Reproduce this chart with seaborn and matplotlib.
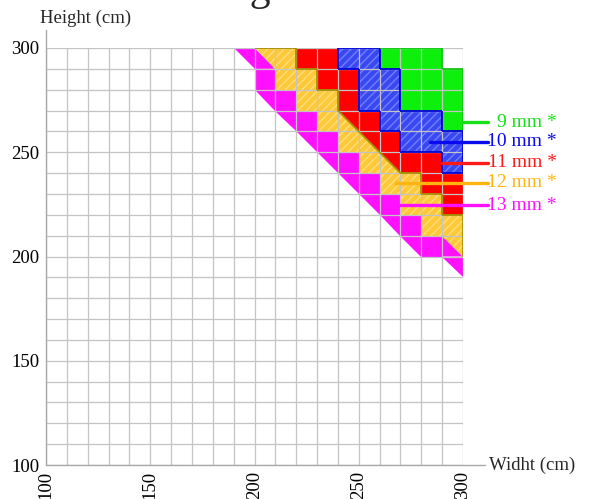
import numpy as np
import pandas as pd
import matplotlib.pyplot as plt
import seaborn as sns

# lower-left corner of each grid cell (cm)
widths = [190, 200, 210, 220, 230, 240, 250, 260, 270, 280, 290]
heights = [290, 280, 270, 260, 250, 240, 230, 220, 210, 200, 190]
step = 10

# glass thickness (mm) per cell, one row per height, 0 = none
# "a/b" = cell cut on the diagonal: a below it, b above it
grid = [
    ["0/13", "13/12", 12, 11, 11, 10, 10, 9, 9, 9, 0],
    [0, 13, 12, 12, 11, 11, 10, 10, 9, 9, 9],
    [0, "0/13", 13, 12, 12, 11, 10, 10, 9, 9, 9],
    [0, 0, "0/13", 13, 12, "12/11", 11, 10, 10, 10, 9],
    [0, 0, 0, "0/13", 13, 12, "12/11", 11, 10, 10, 10],
    [0, 0, 0, 0, "0/13", 13, 12, "12/11", 11, 11, 10],
    [0, 0, 0, 0, 0, "0/13", 13, 12, 12, 11, 11],
    [0, 0, 0, 0, 0, 0, "0/13", 13, 12, 12, 11],
    [0, 0, 0, 0, 0, 0, 0, "0/13", 13, 12, 12],
    [0, 0, 0, 0, 0, 0, 0, 0, "0/13", 13, "13/12"],
    [0, 0, 0, 0, 0, 0, 0, 0, 0, 0, "0/13"],
]

thickness = [9, 10, 11, 12, 13]
labels = ["9 mm *", "10 mm *", "11 mm *", "12 mm *", "13 mm *"]
colors = {9: "#0cf00c", 10: "#3a48f2", 11: "#ff0000", 12: "#ffc838", 13: "#ff10ff"}
text_colors = {9: "#18e018", 10: "#0a0aee", 11: "#ff1a1a", 12: "#ffb410", 13: "#ff10ff"}
outline = {9: "#10c810", 10: "#0000d8", 11: None, 12: "#a89000", 13: None}
hatch_col = {10: "#7080ff", 12: "#ffe07a"}
draw_order = [9, 11, 10, 12, 13]

# where the label leader lines start (cm)
lead_x = [300, 284, 290, 268, 262]
lead_y = [264.5, 255, 245, 235.3, 224.7]
lead_end = 312
label_x = 345

sns.set_style("white")
plt.rcParams["font.family"] = ["Liberation Serif", "DejaVu Serif"]

fig = plt.figure(figsize=(5.9, 4.99), dpi=100)
ax = fig.add_axes([46 / 590, 34 / 499, 417 / 590, 417 / 499])


def split(v):
    if isinstance(v, str):
        a, b = v.split("/")
        return int(a), int(b)
    return v, v


def paint(xs, ys, code):
    if code == 0:
        return
    ax.fill(xs, ys, color=colors[code], lw=0, zorder=1)
    if code in hatch_col:
        ax.fill(xs, ys, facecolor="none", edgecolor=hatch_col[code], lw=0,
                hatch="////", zorder=1.1)


codes = [[split(v) for v in row] for row in grid]
for r, h in enumerate(heights):
    for c, w in enumerate(widths):
        lo, hi = codes[r][c]
        if lo == hi:
            paint([w, w + step, w + step, w], [h, h, h + step, h + step], lo)
        else:
            paint([w, w + step, w], [h, h, h + step], lo)
            paint([w + step, w + step, w], [h, h + step, h + step], hi)


def edge(a, b, xs, ys):
    if a == b:
        return
    win = max([k for k in (a, b) if k], key=draw_order.index, default=0)
    if win and outline[win]:
        ax.plot(xs, ys, color=outline[win], lw=1.3, zorder=3, solid_capstyle="butt")


n = len(widths)
for r, h in enumerate(heights):
    for c, w in enumerate(widths):
        lo, hi = codes[r][c]
        if lo != hi:
            edge(lo, hi, [w, w + step], [h + step, h])
        right = codes[r][c + 1][0] if c + 1 < n else 0
        edge(hi, right, [w + step, w + step], [h, h + step])
        if r == 0:
            edge(hi, 0, [w, w + step], [h + step, h + step])
        below = codes[r + 1][c][1] if r + 1 < n else 0
        edge(lo, below, [w, w + step], [h, h])

lead = pd.DataFrame({
    "x": lead_x + [lead_end] * len(lead_x),
    "y": lead_y + lead_y,
    "t": thickness + thickness,
})
sns.lineplot(data=lead, x="x", y="y", hue="t", palette=text_colors, lw=2.4,
             legend=False, ax=ax, zorder=4)
for ln in ax.lines[-len(thickness):]:
    ln.set_clip_on(False)
for t, lab, y in zip(thickness, labels, lead_y):
    ax.text(label_x, y, lab, color=text_colors[t], fontsize=14, ha="right",
            va="center", clip_on=False)

ax.set_xlim(100, 300)
ax.set_ylim(100, 300)
ax.set_xticks([100, 150, 200, 250, 300])
ax.set_yticks([100, 150, 200, 250, 300])
ax.set_xticks(np.arange(100, 301, 10), minor=True)
ax.set_yticks(np.arange(100, 301, 10), minor=True)
ax.set_axisbelow(False)
ax.grid(which="both", color="#c4c4c4", lw=0.9)
ax.tick_params(which="both", length=0, labelsize=13.5, colors="black")
ax.tick_params(axis="x", rotation=90, pad=4)
ax.tick_params(axis="y", pad=5)
ax.set_xlabel("")
ax.set_ylabel("")
for s in ax.spines.values():
    s.set_visible(False)
ax.plot([0, 0], [0, 1 + 18 / 417], transform=ax.transAxes, color="#a8a8a8",
        lw=1, clip_on=False, zorder=5)
ax.plot([0, 1 + 22 / 417], [0, 0], transform=ax.transAxes, color="#a8a8a8",
        lw=1, clip_on=False, zorder=5)

fig.text(40 / 590, 1 - 18 / 499, "Height (cm)", fontsize=13.5, va="center")
fig.text(489 / 590, 1 - 465 / 499, "Widht (cm)", fontsize=13.5, va="center")
# title sits above the top edge, only its descender shows, as in the reference
fig.text(270 / 590, 1.0, "Glass sizing", fontsize=30, ha="right", va="baseline")

fig.savefig("out.png", dpi=100)
